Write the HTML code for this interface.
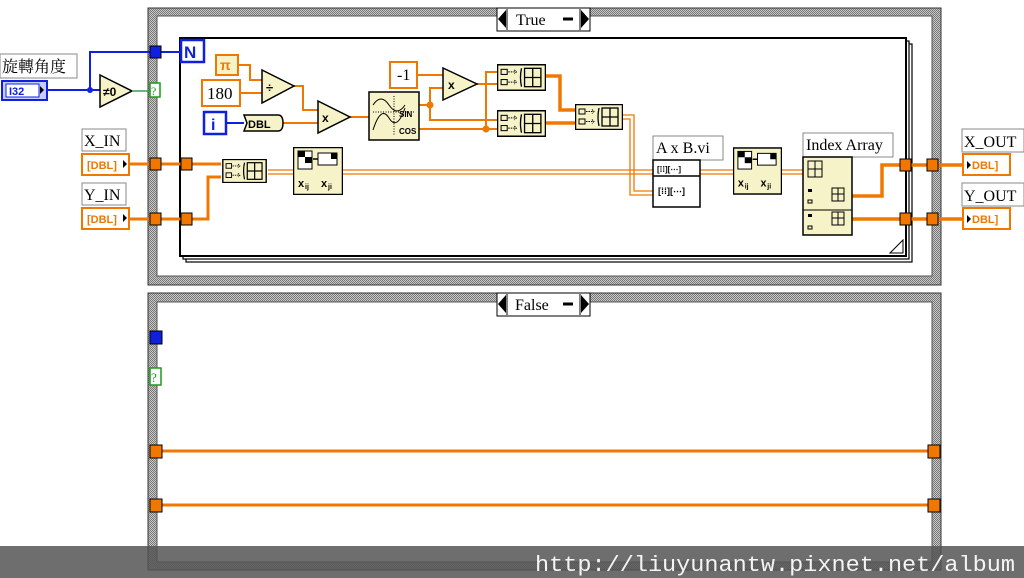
<!DOCTYPE html>
<html><head><meta charset="utf-8">
<style>
html,body{margin:0;padding:0;background:#fff;}
svg{display:block;}
text{font-family:"Liberation Serif","Noto Serif CJK SC",serif;}
.m{font-family:"Liberation Sans",sans-serif;font-weight:bold;}
</style></head><body>
<svg width="1024" height="578" viewBox="0 0 1024 578" xmlns="http://www.w3.org/2000/svg">
<defs>
<pattern id="chk" width="2" height="2" patternUnits="userSpaceOnUse">
<rect width="2" height="2" fill="#c8c8c8"/><rect width="1" height="1" fill="#777"/><rect x="1" y="1" width="1" height="1" fill="#777"/>
</pattern>
<symbol id="ba" viewBox="0 0 48 26">
<rect x="0.5" y="0.5" width="47" height="25" fill="#f7f3c9" stroke="#000" stroke-width="1.5"/>
<rect x="4" y="5" width="6" height="5" fill="none" stroke="#000"/>
<rect x="4" y="15" width="6" height="5" fill="none" stroke="#000"/>
<path d="M11 7.5h8M11 17.5h8M17 5.5l2 2-2 2M17 15.5l2 2-2 2" stroke="#000" fill="none" stroke-dasharray="1.5 1"/>
<path d="M24 4q-2 9 0 18" stroke="#000" fill="none" stroke-width="1.3"/>
<rect x="27" y="4" width="16" height="18" fill="none" stroke="#000" stroke-width="1.3"/>
<path d="M35 4v18M27 13h16" stroke="#000" stroke-width="1.3"/>
</symbol>
<symbol id="tr" viewBox="0 0 50 48">
<rect x="0.5" y="0.5" width="49" height="47" fill="#f7f3c9" stroke="#000" stroke-width="1.5"/>
<rect x="5" y="4" width="14" height="18" fill="#fff" stroke="#000"/>
<rect x="5" y="4" width="7" height="6" fill="#000"/><rect x="12" y="10" width="7" height="6" fill="#000"/>
<path d="M20 12h5" stroke="#000" stroke-width="1.5"/>
<rect x="25" y="6" width="19" height="12" fill="#fff" stroke="#000"/>
<rect x="38" y="6" width="6" height="6" fill="#000"/>
<text x="5" y="40" class="m" font-size="11">x</text><text x="12" y="42" class="m" font-size="7">ij</text>
<text x="28" y="40" class="m" font-size="11">x</text><text x="35" y="42" class="m" font-size="7">ji</text>
</symbol>
</defs>

<!-- TRUE case frame -->
<rect x="148" y="8" width="793" height="277" fill="url(#chk)" stroke="#333" stroke-width="1"/>
<rect x="157" y="16" width="775" height="260" fill="#fff" stroke="#555"/>
<rect x="497" y="8" width="93" height="23" fill="#fff" stroke="#000"/>
<path d="M498 19l8-9v18z" fill="#000"/><path d="M589 19l-8-9v18z" fill="#000"/>
<path d="M507 9v21M580 9v21" stroke="#000"/>
<text x="516" y="25" font-size="16">True</text>
<path d="M563 19h10" stroke="#000" stroke-width="3"/>

<!-- FALSE case frame -->
<rect x="148" y="293" width="793" height="277" fill="url(#chk)" stroke="#333" stroke-width="1"/>
<rect x="157" y="302" width="775" height="260" fill="#fff" stroke="#555"/>
<rect x="497" y="293" width="93" height="23" fill="#fff" stroke="#000"/>
<path d="M498 304l8-9v18z" fill="#000"/><path d="M589 304l-8-9v18z" fill="#000"/>
<path d="M507 294v21M580 294v21" stroke="#000"/>
<text x="515" y="310" font-size="16">False</text>
<path d="M563 304h10" stroke="#000" stroke-width="3"/>
<rect x="150" y="331" width="12" height="13" fill="#1020e0" stroke="#000"/>
<rect x="150" y="368" width="11" height="17" fill="#fff" stroke="#1a9a1a" stroke-width="1.5"/>
<text x="151" y="382" font-size="13" fill="#1a9a1a">?</text>
<path d="M162 451H928M162 505H928" stroke="#f07800" stroke-width="3"/>
<rect x="150" y="445" width="12" height="13" fill="#f07800" stroke="#000"/>
<rect x="150" y="499" width="12" height="13" fill="#f07800" stroke="#000"/>
<rect x="928" y="445" width="12" height="13" fill="#f07800" stroke="#000"/>
<rect x="928" y="499" width="12" height="13" fill="#f07800" stroke="#000"/>

<!-- For loop -->
<rect x="186" y="44" width="726" height="218" fill="#fff" stroke="#000" stroke-width="1.2"/>
<rect x="183" y="41" width="726" height="218" fill="#fff" stroke="#000" stroke-width="1.2"/>
<rect x="180" y="38" width="726" height="218" fill="#fff" stroke="#000" stroke-width="2"/>
<path d="M890 253l13-13v13z" fill="#fff" stroke="#000"/>
<rect x="181" y="40" width="23" height="22" fill="#fff" stroke="#1020e0" stroke-width="2.5"/>
<text x="184" y="58" class="m" font-size="17" fill="#1020e0">N</text>

<!-- left inputs -->
<rect x="0" y="54" width="77" height="24" fill="#fff" stroke="#888"/>
<text x="2" y="72" font-size="16">旋轉角度</text>
<rect x="2" y="81" width="45" height="19" fill="#c8ccff" stroke="#1020e0" stroke-width="2"/>
<rect x="6" y="84" width="33" height="13" fill="#fff" stroke="#1020e0"/>
<text x="9" y="95" class="m" font-size="11" fill="#1020e0">I32</text>
<path d="M40 86l4 4-4 4z" fill="#000"/>
<path d="M47 90H100M90 90V52H150M161 52H181" stroke="#1020e0" stroke-width="2" fill="none"/>
<circle cx="90" cy="90" r="3" fill="#1020e0"/>
<rect x="150" y="46" width="11" height="12" fill="#1020e0" stroke="#000"/>
<path d="M100 75L132 91L100 107z" fill="#f7f3c9" stroke="#000" stroke-width="1.5"/>
<text x="103" y="96" class="m" font-size="12">≠0</text>
<path d="M132 91H150" stroke="#3a9a5a" stroke-width="1.5"/>
<rect x="150" y="83" width="10" height="14" fill="#fff" stroke="#1a9a1a" stroke-width="1.5"/>
<text x="151" y="95" font-size="12" fill="#1a9a1a">?</text>

<rect x="82" y="129" width="44" height="22" fill="#fff" stroke="#888"/>
<text x="84" y="146" font-size="16">X_IN</text>
<rect x="82" y="154" width="47" height="21" fill="#fff" stroke="#f07800" stroke-width="2"/>
<text x="87" y="169" class="m" font-size="11" fill="#f07800">[DBL]</text>
<path d="M123 160l4 4-4 4z" fill="#000"/>
<rect x="82" y="183" width="44" height="22" fill="#fff" stroke="#888"/>
<text x="84" y="200" font-size="16">Y_IN</text>
<rect x="82" y="208" width="47" height="21" fill="#fff" stroke="#f07800" stroke-width="2"/>
<text x="87" y="223" class="m" font-size="11" fill="#f07800">[DBL]</text>
<path d="M123 214l4 4-4 4z" fill="#000"/>

<g stroke="#f07800" stroke-width="3" fill="none">
<path d="M129 164H221"/>
<path d="M129 219H208V177H221"/>
</g>
<rect x="150" y="158" width="11" height="12" fill="#f07800" stroke="#000"/>
<rect x="150" y="213" width="11" height="12" fill="#f07800" stroke="#000"/>
<rect x="181" y="158" width="11" height="12" fill="#f07800" stroke="#000"/>
<rect x="181" y="213" width="11" height="12" fill="#f07800" stroke="#000"/>

<!-- scalar wires -->
<g stroke="#f07800" stroke-width="2" fill="none">
<path d="M238 65H250V80H262"/>
<path d="M240 93H262"/>
<path d="M294 86H303V110H318"/>
<path d="M283 123H318"/>
<path d="M350 117H369"/>
<path d="M419 105H430V88H443"/>
<path d="M430 105V120H497"/>
<path d="M417 75H443"/>
<path d="M419 129H497"/>
<path d="M486 129V72H497"/>
<path d="M477 84H497"/>
</g>
<circle cx="430" cy="105" r="3.5" fill="#f07800"/>
<circle cx="486" cy="129" r="3.5" fill="#f07800"/>
<path d="M226 123H244" stroke="#1020e0" stroke-width="2"/>
<!-- array wires -->
<g stroke="#f07800" stroke-width="3.5" fill="none">
<path d="M546 76H560V110H575"/>
<path d="M546 123H575"/>
<path d="M852 196H882V165H900M911 165H963"/>
<path d="M852 219H900M911 219H963"/>
</g>
<g stroke="#f07800" stroke-width="1.3" fill="none">
<path d="M268 170H293M268 174H293"/>
<path d="M343 170H653M343 174H653"/>
<path d="M623 115H634V191H653M623 119H630V195H653"/>
<path d="M700 170H733M700 174H733"/>
<path d="M782 170H803M782 174H803"/>
</g>

<!-- nodes -->
<rect x="216" y="55" width="22" height="20" fill="#f7f3c9" stroke="#f07800" stroke-width="2"/>
<text x="220" y="70" font-size="14" fill="#f07800" class="m">π</text>
<rect x="202" y="80" width="38" height="26" fill="#fff" stroke="#f07800" stroke-width="2"/>
<text x="207" y="99" font-size="17">180</text>
<path d="M262 70L294 86L262 103z" fill="#f7f3c9" stroke="#000" stroke-width="1.5"/>
<text x="266" y="92" class="m" font-size="13">÷</text>
<path d="M318 101L350 117L318 133z" fill="#f7f3c9" stroke="#000" stroke-width="1.5"/>
<text x="322" y="122" class="m" font-size="12">x</text>
<rect x="204" y="112" width="22" height="22" fill="#fff" stroke="#1020e0" stroke-width="2.5"/>
<text x="211" y="130" class="m" font-size="16" fill="#1020e0">i</text>
<path d="M244 115H278q5 0 5 8q0 8-5 8H244l3-8z" fill="#f7f3c9" stroke="#000" stroke-width="1.5"/>
<text x="248" y="128" class="m" font-size="11">DBL</text>
<rect x="369" y="92" width="50" height="48" fill="#f7f3c9" stroke="#000" stroke-width="1.5"/>
<path d="M373 105q8-12 16 0t16 0M373 130q8-25 16-12t16-10" stroke="#000" fill="none"/>
<path d="M373 112h42M394 96v40" stroke="#000" stroke-dasharray="1 1.5"/>
<text x="399" y="117" class="m" font-size="8">SIN</text>
<text x="399" y="134" class="m" font-size="8">COS</text>
<rect x="390" y="62" width="27" height="26" fill="#fff" stroke="#f07800" stroke-width="2"/>
<text x="397" y="80" font-size="16">-1</text>
<path d="M443 68L477 84L443 100z" fill="#f7f3c9" stroke="#000" stroke-width="1.5"/>
<text x="448" y="89" class="m" font-size="12">x</text>
<use href="#ba" x="221" y="159" width="47" height="24"/>
<use href="#ba" x="497" y="64" width="49" height="27"/>
<use href="#ba" x="497" y="110" width="49" height="27"/>
<use href="#ba" x="575" y="104" width="48" height="26"/>
<use href="#tr" x="293" y="147" width="50" height="48"/>
<use href="#tr" x="733" y="147" width="49" height="48"/>

<rect x="653" y="136" width="70" height="24" fill="#fff" stroke="#888"/>
<text x="656" y="153" font-size="16">A x B.vi</text>
<rect x="653" y="160" width="47" height="47" fill="#fff" stroke="#000" stroke-width="1.5"/>
<path d="M653 176H700" stroke="#000" stroke-width="1.5"/>
<text x="657" y="172" class="m" font-size="8">[⁞⁞][⋯]</text>
<text x="658" y="194" class="m" font-size="9">[⁞⁞][⋯]</text>

<rect x="803" y="133" width="90" height="24" fill="#fff" stroke="#888"/>
<text x="806" y="150" font-size="16">Index Array</text>
<rect x="803" y="157" width="49" height="78" fill="#f7f3c9" stroke="#000" stroke-width="1.5"/>
<path d="M803 210H852" stroke="#000"/>
<rect x="808" y="161" width="14" height="16" fill="none" stroke="#000"/><path d="M815 161v16M808 169h14" stroke="#000"/>
<rect x="832" y="188" width="12" height="13" fill="none" stroke="#000"/><path d="M838 188v13M832 194h12" stroke="#000"/>
<rect x="832" y="212" width="12" height="13" fill="none" stroke="#000"/><path d="M838 212v13M832 218h12" stroke="#000"/>
<rect x="808" y="189" width="4" height="3" fill="#000"/><rect x="808" y="200" width="4" height="3" fill="none" stroke="#000"/>
<rect x="808" y="214" width="4" height="3" fill="#000"/><rect x="808" y="226" width="4" height="3" fill="none" stroke="#000"/>

<rect x="900" y="159" width="11" height="12" fill="#f07800" stroke="#000"/>
<rect x="900" y="213" width="11" height="12" fill="#f07800" stroke="#000"/>
<rect x="927" y="159" width="11" height="12" fill="#f07800" stroke="#000"/>
<rect x="927" y="213" width="11" height="12" fill="#f07800" stroke="#000"/>

<rect x="962" y="129" width="62" height="23" fill="#fff" stroke="#888"/>
<text x="964" y="147" font-size="16">X_OUT</text>
<rect x="963" y="154" width="47" height="21" fill="#fff" stroke="#f07800" stroke-width="2"/>
<path d="M967 161l4 4-4 4z" fill="#000"/>
<text x="972" y="169" class="m" font-size="11" fill="#f07800">DBL]</text>
<rect x="962" y="183" width="62" height="23" fill="#fff" stroke="#888"/>
<text x="964" y="201" font-size="16">Y_OUT</text>
<rect x="963" y="208" width="47" height="21" fill="#fff" stroke="#f07800" stroke-width="2"/>
<path d="M967 215l4 4-4 4z" fill="#000"/>
<text x="972" y="223" class="m" font-size="11" fill="#f07800">DBL]</text>

<!-- bottom watermark bar -->
<rect x="0" y="546" width="1024" height="32" fill="#555" fill-opacity="0.85"/>
<text x="535" y="571" font-size="22" fill="#f4f4f4" textLength="480" lengthAdjust="spacingAndGlyphs" style="font-family:'Liberation Mono',monospace">http://liuyunantw.pixnet.net/album</text>
</svg>
</body></html>
